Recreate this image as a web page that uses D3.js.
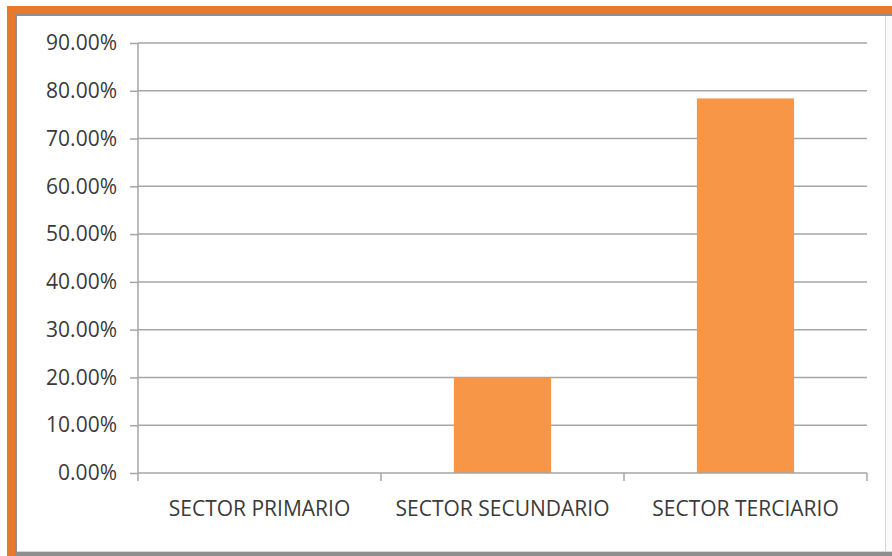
<!DOCTYPE html>
<html>
<head>
<meta charset="utf-8">
<script src="https://cdn.jsdelivr.net/npm/d3@7"></script>
<style>
  html, body { margin: 0; padding: 0; background: #fff; }
  svg { display: block; }
  text { font-family: "Open Sans", "Noto Sans", sans-serif; fill: #3a3a3a; }
</style>
</head>
<body>
<svg id="chart" width="892" height="556"></svg>
<script>
// Share of employment by economic sector
const categories = ["SECTOR PRIMARIO", "SECTOR SECUNDARIO", "SECTOR TERCIARIO"];
const shares = [0.0, 0.200, 0.784];
const tickValues = [0, 0.1, 0.2, 0.3, 0.4, 0.5, 0.6, 0.7, 0.8, 0.9];

const W = 892, H = 556;
const margin = { top: 43, right: 25, bottom: 83, left: 138 };
const innerW = W - margin.left - margin.right;
const innerH = H - margin.top - margin.bottom;
const fontSize = 21;

const svg = d3.select("#chart");

// Frame: orange outer edge on top/left, grey inner edge, white panel
svg.append("rect").attr("x", 7).attr("y", 6).attr("width", W - 7).attr("height", H - 6).attr("fill", "#E8782A");
svg.append("rect").attr("x", 15).attr("y", 14).attr("width", W - 15).attr("height", H - 14).attr("fill", "#8e8e8e");
svg.append("rect").attr("x", 17).attr("y", 16).attr("width", W - 17).attr("height", 536).attr("fill", "#d6d6d6");
svg.append("rect").attr("x", 17).attr("y", 16).attr("width", 868).attr("height", 535).attr("fill", "#ffffff");
svg.append("rect").attr("x", 886).attr("y", 16).attr("width", 6).attr("height", 535).attr("fill", "#fbfbfb");

const g = svg.append("g").attr("transform", `translate(${margin.left},${margin.top})`);

const x = d3.scaleBand().domain(categories).range([0, innerW]).paddingInner(0.6).paddingOuter(0.3);
const xEdges = d3.scaleBand().domain(categories).range([0, innerW]);
const y = d3.scaleLinear().domain([0, 0.9]).range([innerH, 0]);

// Horizontal gridlines
g.append("g")
  .selectAll("line")
  .data(tickValues.filter(v => v > 0))
  .join("line")
  .attr("x1", 0).attr("x2", innerW)
  .attr("y1", d => y(d)).attr("y2", d => y(d))
  .attr("stroke", "#a6a6a6").attr("stroke-width", 1.5);

// Bars
g.append("g")
  .selectAll("rect")
  .data(categories.map((c, i) => ({ c, v: shares[i] })))
  .join("rect")
  .attr("x", d => x(d.c))
  .attr("y", d => y(d.v))
  .attr("width", x.bandwidth())
  .attr("height", d => innerH - y(d.v))
  .attr("fill", "#F79646");

// Y axis
const yAxis = d3.axisLeft(y).tickValues(tickValues).tickFormat(d3.format(".2%")).tickSize(8).tickPadding(13);
const ya = g.append("g").call(yAxis);
ya.attr("font-family", null);
ya.select(".domain").attr("stroke", "#a6a6a6").attr("stroke-width", 1.5).attr("d", `M0,${innerH}V0`);
ya.selectAll(".tick line").attr("stroke", "#a6a6a6").attr("stroke-width", 1.5);
ya.selectAll(".tick text").attr("font-size", fontSize).style("fill", "#3a3a3a");

// X axis: baseline with tick marks at category boundaries
const xa = g.append("g").attr("transform", `translate(0,${innerH})`);
xa.append("line").attr("x1", 0).attr("x2", innerW).attr("y1", 0).attr("y2", 0)
  .attr("stroke", "#a6a6a6").attr("stroke-width", 1.5);
const edges = categories.map(c => xEdges(c)).concat([innerW]);
xa.selectAll("line.edge").data(edges).join("line").attr("class", "edge")
  .attr("x1", d => d).attr("x2", d => d).attr("y1", 0).attr("y2", 8)
  .attr("stroke", "#a6a6a6").attr("stroke-width", 1.5);
xa.selectAll("text").data(categories).join("text")
  .attr("x", d => xEdges(d) + xEdges.bandwidth() / 2)
  .attr("y", 43)
  .attr("text-anchor", "middle")
  .attr("font-size", fontSize)
  .text(d => d);
</script>
</body>
</html>
